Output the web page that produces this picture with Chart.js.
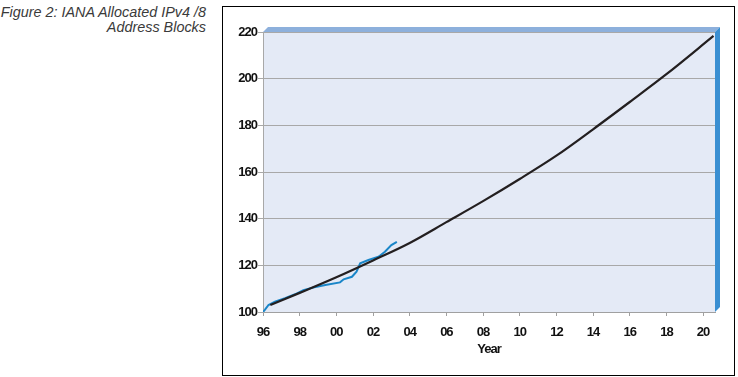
<!DOCTYPE html>
<html>
<head>
<meta charset="utf-8">
<script src="https://cdn.jsdelivr.net/npm/chart.js@4.4.1/dist/chart.umd.min.js"></script>
<style>
    html, body { margin: 0; padding: 0; background: #fff; }
    #wrap { position: relative; width: 738px; height: 377px; }
    #caption {
        position: absolute; left: 0; top: 5px; width: 206px;
        text-align: right; font: italic 14.4px "Liberation Sans", Arial, sans-serif;
        color: #3a3a3a; line-height: 15px;
    }
    #box {
        position: absolute; left: 222px; top: 6px; width: 511px; height: 368px;
        border: 1px solid #000;
    }
    canvas { position: absolute; left: 0; top: 0; }
</style>
</head>
<body>
<div id="wrap">
    <div id="caption">Figure 2: IANA Allocated IPv4 /8<br>Address Blocks</div>
    <div id="box"></div>
    <canvas id="chart" width="738" height="377"></canvas>
</div>
<script>
// projected trend (black)
const trendYears  = [1996.4, 1998, 2000, 2002, 2004, 2006, 2008, 2010, 2012, 2014, 2016, 2018, 2020.57];
const trendValues = [103, 108.2, 114.9, 122.1, 129.6, 138.5, 147.5, 157, 167, 178.3, 190, 201.9, 218.3];

// actual allocations (blue)
const actualYears  = [1996.0, 1996.1, 1996.3, 1996.65, 1997.2, 1997.75, 1998.2, 1998.8, 1999.4, 2000.2,
                      2000.4, 2000.85, 2001.1, 2001.3, 2001.75, 2002.3, 2002.65, 2003.0, 2003.3];
const actualValues = [100, 100.9, 103, 104.4, 105.9, 107.6, 109.4, 110.6, 111.6, 112.7,
                      114, 115.1, 117.3, 120.9, 122.3, 123.7, 125.8, 128.7, 130.1];

const yTicks = [100, 120, 140, 160, 180, 200, 220];
const xAxisTitle = "Year";

const labelFont = { family: "'Liberation Sans', Arial, sans-serif", size: 13, weight: "bold" };

// squeeze the axis text a little, the original uses a condensed face
const narrowText = {
    id: "narrowText",
    beforeUpdate(chart) { chart.ctx.letterSpacing = "-1px"; },
    beforeDraw(chart) { chart.ctx.letterSpacing = "-1px"; }
};

// plot background and the 3d frame bands
const framePlugin = {
    id: "frame",
    beforeDraw(chart) {
        const { ctx, chartArea: a } = chart;
        ctx.save();
        ctx.fillStyle = "#e4eaf6";
        ctx.fillRect(a.left, a.top, a.right - a.left, a.bottom - a.top);
        ctx.restore();
    },
    beforeDatasetsDraw(chart) {
        const { ctx, chartArea: a } = chart;
        const d = 5;
        ctx.save();
        ctx.fillStyle = "#8db0dc";
        ctx.beginPath();
        ctx.moveTo(a.left, a.top);
        ctx.lineTo(a.left + d, a.top - d);
        ctx.lineTo(a.right + d, a.top - d);
        ctx.lineTo(a.right, a.top);
        ctx.closePath();
        ctx.fill();
        ctx.fillStyle = "#3a8fd2";
        ctx.beginPath();
        ctx.moveTo(a.right, a.top);
        ctx.lineTo(a.right + d, a.top - d);
        ctx.lineTo(a.right + d, a.bottom - d);
        ctx.lineTo(a.right, a.bottom);
        ctx.closePath();
        ctx.fill();
        ctx.restore();
    }
};

new Chart(document.getElementById("chart").getContext("2d"), {
    type: "line",
    data: {
        datasets: [
            {
                label: "Projection",
                data: trendYears.map((x, i) => ({ x, y: trendValues[i] })),
                borderColor: "#231f20",
                borderWidth: 2.2,
                pointRadius: 0,
                cubicInterpolationMode: "monotone"
            },
            {
                label: "Allocated",
                data: actualYears.map((x, i) => ({ x, y: actualValues[i] })),
                borderColor: "#1a86c8",
                borderWidth: 2,
                pointRadius: 0,
                tension: 0
            }
        ]
    },
    options: {
        responsive: false,
        animation: false,
        layout: { padding: { left: 222, right: 23, top: 32, bottom: 20 } },
        plugins: { legend: { display: false }, tooltip: { enabled: false } },
        scales: {
            x: {
                type: "linear",
                min: 1996,
                max: 2020.65,
                afterFit: s => { s.height = 45; },
                grid: { drawOnChartArea: false, color: "#a0a0a0", tickLength: 4 },
                border: { color: "#a0a0a0" },
                ticks: {
                    stepSize: 2,
                    includeBounds: false,
                    maxRotation: 0,
                    padding: 9,
                    color: "#111",
                    font: labelFont,
                    callback: v => String(v % 100).padStart(2, "0")
                },
                title: { display: true, text: xAxisTitle, color: "#111", font: labelFont, padding: 0 }
            },
            y: {
                min: 100,
                max: 220,
                afterFit: s => { s.width = 41; },
                afterBuildTicks: s => { s.ticks = yTicks.map(value => ({ value })); },
                grid: { color: "#a8a8a8", tickLength: 5 },
                border: { color: "#a8a8a8" },
                ticks: { padding: 1, color: "#111", font: labelFont }
            }
        }
    },
    plugins: [narrowText, framePlugin]
});
</script>
</body>
</html>
